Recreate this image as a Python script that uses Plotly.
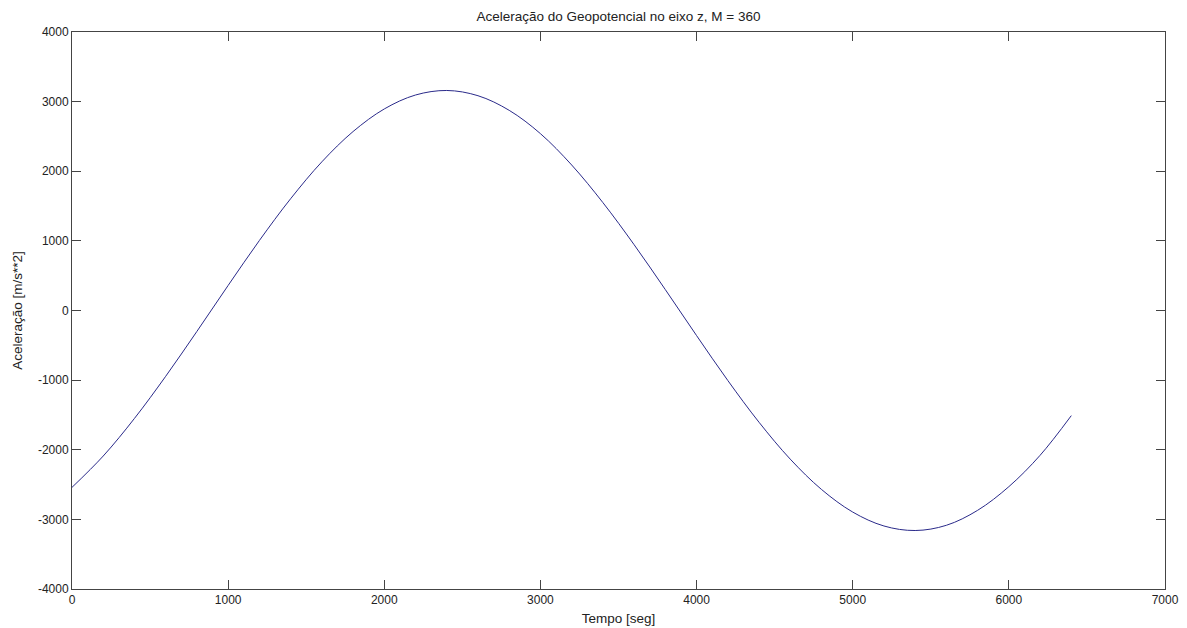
import plotly.graph_objects as go

# Time [s] and acceleration values
tempo = [0, 200, 400, 600, 800, 1000, 1200, 1400, 1600, 1800, 2000, 2200, 2400,
         2600, 2800, 3000, 3200, 3400, 3600, 3800, 4000, 4200, 4400, 4600, 4800,
         5000, 5200, 5400, 5600, 5800, 6000, 6200, 6400]
aceleracao = [-2540, -2090, -1550, -945, -300, 360, 1005, 1605, 2135, 2570, 2895,
              3095, 3160, 3085, 2875, 2540, 2090, 1550, 945, 300, -360, -1005,
              -1605, -2135, -2570, -2895, -3095, -3160, -3085, -2870, -2530,
              -2080, -1510]
x_ticks = [0, 1000, 2000, 3000, 4000, 5000, 6000, 7000]
y_ticks = [-4000, -3000, -2000, -1000, 0, 1000, 2000, 3000, 4000]
x_tick_labels = ["0", "1000", "2000", "3000", "4000", "5000", "6000", "7000"]
y_tick_labels = ["-4000", "-3000", "-2000", "-1000", "0", "1000", "2000", "3000", "4000"]

FONT = "Liberation Sans, Arial, sans-serif"

fig = go.Figure()
fig.add_trace(go.Scatter(x=tempo, y=aceleracao, mode="lines",
                         line=dict(color="#2a2a8a", width=1, shape="spline"),
                         showlegend=False, hoverinfo="skip"))

axis_common = dict(showgrid=False, zeroline=False, showline=True, mirror="allticks",
                   linecolor="#444444", linewidth=1, ticks="inside", ticklen=9,
                   tickcolor="#444444", tickwidth=1, automargin=False,
                   tickfont=dict(family=FONT, size=12, color="#222222"))

W, H = 1179, 620
fig.update_layout(
    width=W, height=H,
    margin=dict(l=64, r=22, t=24, b=39, autoexpand=False),
    paper_bgcolor="white", plot_bgcolor="white",
    title=dict(text="Aceleração do Geopotencial no eixo z, M = 360",
               x=(64 + (W - 22)) / 2 / W, xanchor="center", y=1 - 8 / H, yanchor="middle",
               font=dict(family=FONT, size=13.5, color="#222222")),
    xaxis=dict(range=[0, 7000], tickvals=x_ticks, ticktext=x_tick_labels,
               title=dict(text="Tempo [seg]", standoff=7,
                          font=dict(family=FONT, size=13.5, color="#222222")),
               **axis_common),
    yaxis=dict(range=[-4000, 4000], tickvals=y_ticks, ticktext=y_tick_labels,
               title=dict(text="Aceleração [m/s**2]", standoff=12,
                          font=dict(family=FONT, size=13.5, color="#222222")),
               **axis_common),
)

fig.write_html("out.html")
